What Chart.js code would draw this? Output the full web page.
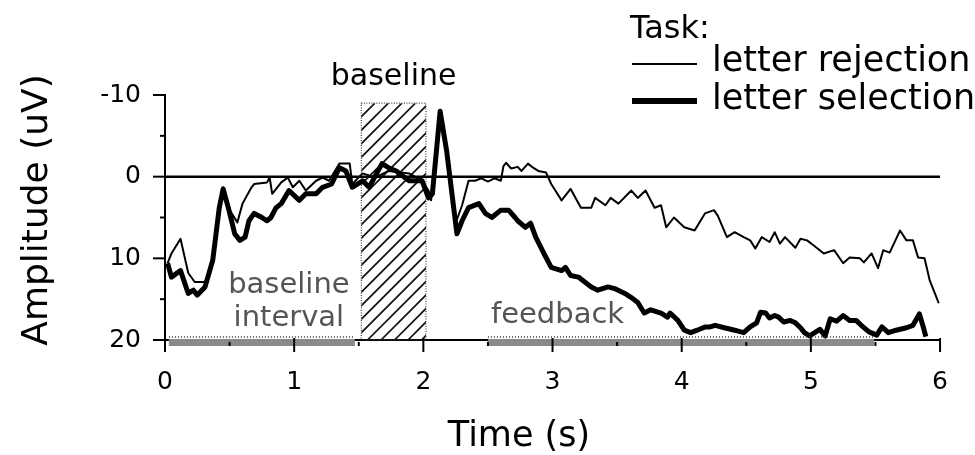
<!DOCTYPE html>
<html>
<head>
<meta charset="utf-8">
<script src="https://cdn.jsdelivr.net/npm/chart.js@4.4.1/dist/chart.umd.min.js"></script>
<style>
  html, body { margin: 0; padding: 0; background: #fff; }
  #wrap { width: 975px; height: 455px; }
</style>
</head>
<body>
<div id="wrap"><canvas id="erpChart" width="975" height="455"></canvas></div>
<script>
// averaged amplitude traces, time in s, amplitude in uV
const rejectionTime = [0.02,0.05,0.12,0.18,0.23,0.31,0.35,0.40,0.45,0.50,0.56,0.60,0.67,0.69,0.79,0.81,0.83,0.90,0.95,0.99,1.04,1.09,1.17,1.22,1.27,1.35,1.43,1.45,1.53,1.63,1.73,1.89,1.99,2.04,2.06,2.13,2.20,2.25,2.30,2.35,2.40,2.45,2.50,2.55,2.60,2.62,2.64,2.68,2.73,2.76,2.81,2.85,2.89,2.95,2.99,3.07,3.14,3.22,3.30,3.33,3.41,3.45,3.51,3.61,3.66,3.72,3.79,3.84,3.88,3.94,4.02,4.10,4.18,4.25,4.28,4.35,4.41,4.48,4.53,4.57,4.62,4.68,4.72,4.76,4.80,4.88,4.92,4.97,5.02,5.10,5.18,5.25,5.30,5.38,5.41,5.47,5.52,5.56,5.61,5.69,5.74,5.79,5.83,5.88,5.92,5.96,5.99];
const rejectionAmp = [10.6,9.4,7.6,11.8,12.9,12.9,11.5,7.0,1.3,4.1,5.6,3.3,1.3,0.9,0.7,0.1,2.1,0.7,0.1,1.3,0.5,1.7,0.5,0.1,0.5,-1.6,-1.6,0.9,-0.4,0.1,-0.7,-0.4,0.5,1.7,2.9,-7.7,-0.7,5.7,3.5,0.5,0.5,0.2,0.6,0.2,0.5,-1.3,-1.7,-1.0,-1.2,-0.7,-1.6,-1.1,-0.7,-0.5,0.9,2.9,1.5,3.8,3.8,2.6,3.5,2.6,3.3,1.7,2.6,1.7,3.8,3.5,6.2,5.0,6.2,6.6,4.5,4.1,4.8,7.4,6.8,7.4,7.8,8.8,7.4,8.0,6.8,8.2,7.4,8.7,7.6,7.8,8.4,9.4,9.0,10.6,9.9,10.0,10.5,9.4,11.2,9.0,9.3,6.6,7.8,7.8,9.9,10.0,12.7,14.3,15.5];

const selectionTime = [0.02,0.05,0.12,0.18,0.22,0.25,0.31,0.37,0.42,0.45,0.49,0.54,0.58,0.62,0.65,0.69,0.75,0.79,0.82,0.86,0.90,0.96,1.04,1.09,1.17,1.22,1.29,1.35,1.40,1.45,1.53,1.58,1.68,1.73,1.79,1.89,1.99,2.04,2.07,2.13,2.18,2.26,2.30,2.35,2.43,2.48,2.53,2.60,2.66,2.71,2.73,2.79,2.83,2.87,2.94,2.99,3.07,3.10,3.14,3.20,3.25,3.30,3.35,3.43,3.48,3.56,3.61,3.66,3.71,3.76,3.84,3.89,3.91,3.97,4.02,4.07,4.12,4.18,4.22,4.26,4.33,4.41,4.48,4.53,4.58,4.61,4.65,4.68,4.72,4.75,4.79,4.84,4.88,4.92,4.95,4.99,5.07,5.11,5.15,5.20,5.25,5.30,5.35,5.39,5.45,5.51,5.55,5.60,5.66,5.74,5.79,5.84,5.87,5.89];
const selectionAmp = [10.6,12.3,11.5,14.3,13.9,14.5,13.5,10.2,3.8,1.5,3.8,7.0,7.8,7.4,5.4,4.5,5.0,5.4,5.0,3.8,3.3,1.7,2.9,2.1,2.1,1.3,0.9,-1.1,-0.7,1.3,0.5,1.3,-1.6,-1.1,-0.7,0.5,0.5,2.6,2.1,-8.0,-3.2,7.0,5.4,3.8,3.3,4.5,5.0,4.1,4.1,5.0,5.4,6.2,5.7,7.4,9.6,11.1,11.5,11.1,12.1,12.3,12.9,13.5,13.9,13.5,13.7,14.3,14.8,15.4,16.7,16.3,16.7,17.2,16.7,17.6,18.8,19.1,18.8,18.4,18.4,18.2,18.5,18.8,19.1,18.4,17.9,16.6,16.7,17.3,17.0,17.2,17.8,17.6,17.9,18.5,19.1,19.5,18.7,19.5,17.4,17.7,17.0,17.6,17.6,18.2,19.0,19.4,18.4,19.1,18.8,18.5,18.2,16.8,18.4,19.6];

// axis ticks
const xMajorTicks = [0, 1, 2, 3, 4, 5, 6];
const xMinorTicks = [0.5, 1.5, 2.5, 3.5, 4.5, 5.5];
const yMajorTicks = [-10, 0, 10, 20];
const yMinorTicks = [-5, 5, 15];

// task intervals (s)
const baselineWindow = [1.52, 2.02];
const baselineWindowTop = -9;
const baselineInterval = [0.03, 1.47];
const feedbackInterval = [2.5, 5.49];

const FONT = "'DejaVu Sans', Verdana, sans-serif";

function zip(ts, vs) {
  return ts.map((t, i) => ({ x: t, y: vs[i] }));
}

function midPx(scale, range) {
  return (scale.getPixelForValue(range[0]) + scale.getPixelForValue(range[1])) / 2;
}

const decorPlugin = {
  id: "decor",
  beforeDatasetsDraw(chart) {
    const { ctx, scales: { x, y } } = chart;

    // hatched baseline window
    const bx0 = x.getPixelForValue(baselineWindow[0]);
    const bx1 = x.getPixelForValue(baselineWindow[1]);
    const by0 = y.getPixelForValue(baselineWindowTop);
    const by1 = y.getPixelForValue(20);
    const h = by1 - by0;
    ctx.save();
    ctx.beginPath();
    ctx.rect(bx0, by0, bx1 - bx0, h);
    ctx.clip();
    ctx.strokeStyle = "#111";
    ctx.lineWidth = 1.7;
    for (let s = bx0 - h; s < bx1 + 14; s += 13.5) {
      ctx.beginPath();
      ctx.moveTo(s, by1);
      ctx.lineTo(s + h, by0);
      ctx.stroke();
    }
    ctx.restore();

    ctx.save();
    ctx.setLineDash([1, 1.5]);
    ctx.strokeStyle = "#444";
    ctx.lineWidth = 1.2;
    ctx.strokeRect(bx0, by0, bx1 - bx0, h);
    ctx.restore();

    // zero line
    ctx.save();
    ctx.strokeStyle = "#000";
    ctx.lineWidth = 2.5;
    ctx.beginPath();
    ctx.moveTo(x.getPixelForValue(0), y.getPixelForValue(0));
    ctx.lineTo(x.getPixelForValue(6), y.getPixelForValue(0));
    ctx.stroke();
    ctx.restore();
  },
  afterDatasetsDraw(chart) {
    const { ctx, scales: { x, y } } = chart;
    const y20 = y.getPixelForValue(20);

    // grey interval bars sitting on the time axis
    ctx.save();
    ctx.fillStyle = "#8a8a8a";
    [baselineInterval, feedbackInterval].forEach((iv) => {
      const a = x.getPixelForValue(iv[0]);
      const b = x.getPixelForValue(iv[1]);
      ctx.fillRect(a, y20 - 1, b - a, 7);
      ctx.save();
      ctx.setLineDash([1, 2]);
      ctx.strokeStyle = "#333";
      ctx.lineWidth = 1.5;
      ctx.beginPath();
      ctx.moveTo(a, y20 - 3);
      ctx.lineTo(b, y20 - 3);
      ctx.stroke();
      ctx.restore();
    });
    ctx.restore();

    // tick marks
    ctx.save();
    ctx.strokeStyle = "#000";
    ctx.lineWidth = 2;
    const left = x.getPixelForValue(0);
    xMajorTicks.forEach((t) => {
      const px = x.getPixelForValue(t);
      ctx.beginPath(); ctx.moveTo(px, y20 - 2); ctx.lineTo(px, y20 + 12); ctx.stroke();
    });
    xMinorTicks.forEach((t) => {
      const px = x.getPixelForValue(t);
      ctx.beginPath(); ctx.moveTo(px, y20 + 2); ctx.lineTo(px, y20 + 6); ctx.stroke();
    });
    yMajorTicks.forEach((v) => {
      const py = y.getPixelForValue(v);
      ctx.beginPath(); ctx.moveTo(left - 12, py); ctx.lineTo(left, py); ctx.stroke();
    });
    yMinorTicks.forEach((v) => {
      const py = y.getPixelForValue(v);
      ctx.beginPath(); ctx.moveTo(left - 5, py); ctx.lineTo(left, py); ctx.stroke();
    });
    ctx.restore();

    // interval labels
    ctx.save();
    ctx.textBaseline = "middle";
    ctx.textAlign = "center";
    ctx.fillStyle = "#000";
    ctx.font = "30px " + FONT;
    ctx.fillText("baseline", midPx(x, baselineWindow), y.getPixelForValue(baselineWindowTop) - 26);
    ctx.fillStyle = "#555";
    ctx.font = "29px " + FONT;
    const bi = midPx(x, baselineInterval) + 27;
    ctx.fillText("baseline", bi, y20 - 55);
    ctx.fillText("interval", bi, y20 - 22);
    ctx.textAlign = "left";
    ctx.fillText("feedback", x.getPixelForValue(feedbackInterval[0]) + 3, y20 - 25);
    ctx.restore();
  },
  afterDraw(chart) {
    const { ctx } = chart;
    ctx.save();
    ctx.fillStyle = "#000";
    ctx.textBaseline = "middle";
    ctx.textAlign = "left";

    // axis titles
    ctx.font = "35px " + FONT;
    ctx.textAlign = "center";
    ctx.fillText("Time (s)", 519, 437);
    ctx.save();
    ctx.translate(38, 210);
    ctx.rotate(-Math.PI / 2);
    ctx.font = "36px " + FONT;
    ctx.fillText("Amplitude (uV)", 0, 0);
    ctx.restore();

    // legend
    ctx.textAlign = "left";
    ctx.font = "32px " + FONT;
    ctx.fillText("Task:", 630, 30);
    ctx.font = "35px " + FONT;
    ctx.fillText("letter rejection", 712, 62);
    ctx.fillText("letter selection", 712, 100);
    ctx.strokeStyle = "#000";
    ctx.lineWidth = 2;
    ctx.beginPath(); ctx.moveTo(632, 64); ctx.lineTo(697, 64); ctx.stroke();
    ctx.lineWidth = 6;
    ctx.beginPath(); ctx.moveTo(632, 101); ctx.lineTo(697, 101); ctx.stroke();
    ctx.restore();
  }
};

new Chart(document.getElementById("erpChart"), {
  type: "line",
  data: {
    datasets: [
      {
        label: "letter rejection",
        data: zip(rejectionTime, rejectionAmp),
        borderColor: "#000",
        borderWidth: 2,
        pointRadius: 0,
        tension: 0,
        borderJoinStyle: "round",
      },
      {
        label: "letter selection",
        data: zip(selectionTime, selectionAmp),
        borderColor: "#000",
        borderWidth: 5,
        pointRadius: 0,
        tension: 0,
        borderJoinStyle: "round",
      },
    ],
  },
  options: {
    responsive: false,
    animation: false,
    layout: { padding: { top: 95, right: 26, bottom: 0, left: 0 } },
    plugins: { legend: { display: false }, tooltip: { enabled: false } },
    scales: {
      x: {
        type: "linear",
        min: 0,
        max: 6,
        afterFit: (s) => { s.height = 115; },
        ticks: { stepSize: 1, color: "#000", padding: 27, font: { family: FONT, size: 25 } },
        grid: { display: false, drawTicks: false },
        border: { display: true, color: "#000", width: 2 },
      },
      y: {
        type: "linear",
        min: -10,
        max: 20,
        reverse: true,
        afterFit: (s) => { s.width = 165; },
        ticks: { stepSize: 10, color: "#000", padding: 24, font: { family: FONT, size: 25 } },
        grid: { display: false, drawTicks: false },
        border: { display: true, color: "#000", width: 2 },
      },
    },
  },
  plugins: [decorPlugin],
});
</script>
</body>
</html>
